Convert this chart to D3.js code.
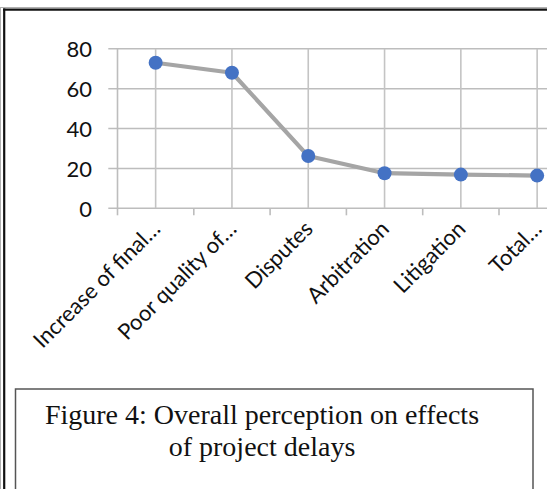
<!DOCTYPE html>
<html><head><meta charset="utf-8">
<script src="https://cdn.jsdelivr.net/npm/d3@7"></script>
<style>html,body{margin:0;padding:0;background:#fff;overflow:hidden}</style>
</head><body>
<svg id="c" width="547" height="489"></svg>
<script>
const categories = ["Increase of final…", "Poor quality of…", "Disputes", "Arbitration", "Litigation", "Total…"];
const values = [73, 68, 26.2, 17.6, 16.9, 16.4];
const yTicks = [0, 20, 40, 60, 80];
const captionLines = ["Figure 4: Overall perception on effects", "of project delays"];

const svg = d3.select("#c");
// outer frame (double border)
svg.append("line").attr("x1",0.5).attr("x2",0.5).attr("y1",7).attr("y2",489).attr("stroke","#b0b0b0").attr("stroke-width",1);
svg.append("line").attr("x1",0).attr("x2",547).attr("y1",7.5).attr("y2",7.5).attr("stroke","#b0b0b0").attr("stroke-width",1);
svg.append("line").attr("x1",4.2).attr("x2",4.2).attr("y1",8.6).attr("y2",489).attr("stroke","#111").attr("stroke-width",2.2);
svg.append("line").attr("x1",3.1).attr("x2",547).attr("y1",9.6).attr("y2",9.6).attr("stroke","#111").attr("stroke-width",2.2);

const left = 117.5, band = 76.3;
const x = d3.scaleBand().domain(categories).range([left, left + band*categories.length]).paddingInner(0).paddingOuter(0);
const y = d3.scaleLinear().domain([0, 80]).range([208.3, 48.8]);

const g = svg.append("g");
// horizontal gridlines
g.selectAll(".hg").data(yTicks).join("line")
  .attr("x1", 108.3).attr("x2", 547)
  .attr("y1", d => y(d)).attr("y2", d => y(d))
  .attr("stroke", "#bdbdbd").attr("stroke-width", 1.6);
// vertical gridlines at category centers + left axis line
g.selectAll(".vg").data(categories).join("line")
  .attr("x1", d => x(d) + x.bandwidth()/2).attr("x2", d => x(d) + x.bandwidth()/2)
  .attr("y1", y(80)).attr("y2", y(0))
  .attr("stroke", "#c4c4c4").attr("stroke-width", 1.6);
g.append("line").attr("x1", left).attr("x2", left).attr("y1", y(80)).attr("y2", y(0))
  .attr("stroke", "#bdbdbd").attr("stroke-width", 1.6);

// x axis
const xAxis = d3.axisBottom(x).tickSize(0).tickFormat("");
const ax = g.append("g").attr("transform", `translate(0,${y(0)})`).call(xAxis);
ax.select(".domain").remove();
const boundaries = categories.map((c,i) => left + i*band);
g.selectAll(".xt").data(boundaries).join("line")
  .attr("x1", d => d).attr("x2", d => d).attr("y1", y(0)).attr("y2", y(0) + 7)
  .attr("stroke", "#bdbdbd").attr("stroke-width", 1.6);

// y axis labels
const yAxis = d3.axisLeft(y).tickValues(yTicks).tickSize(0).tickPadding(0);
const ay = g.append("g").attr("transform", `translate(92,0)`).call(yAxis);
ay.select(".domain").remove();
ay.selectAll("text").attr("font-family", "Lato, 'Open Sans', sans-serif").attr("font-size", 22).attr("fill", "#111").attr("dy", "0.36em");

// category labels
g.selectAll(".cl").data(categories).join("text")
  .attr("transform", d => `translate(${x(d) + x.bandwidth()/2 + 6},${y(0) + 22}) rotate(-45)`)
  .attr("text-anchor", "end")
  .attr("font-family", "Lato, 'Open Sans', sans-serif").attr("font-size", 22).attr("fill", "#111")
  .text(d => d);

// line
const line = d3.line().x((d,i) => x(categories[i]) + x.bandwidth()/2).y(d => y(d));
g.append("path").datum(values).attr("d", line).attr("fill", "none")
  .attr("stroke", "#a5a5a5").attr("stroke-width", 4.2).attr("stroke-linejoin", "round");
g.selectAll(".pt").data(values).join("circle")
  .attr("cx", (d,i) => x(categories[i]) + x.bandwidth()/2).attr("cy", d => y(d))
  .attr("r", 7).attr("fill", "#4472c4");

// caption box
svg.append("rect").attr("x", 15.5).attr("y", 389).attr("width", 517.5).attr("height", 120)
  .attr("fill", "none").attr("stroke", "#555").attr("stroke-width", 1.5);
svg.selectAll(".cap").data(captionLines).join("text")
  .attr("x", 262).attr("y", (d,i) => 424 + i*32)
  .attr("text-anchor", "middle")
  .attr("font-family", "'Liberation Serif', 'Times New Roman', serif").attr("font-size", 28).attr("fill", "#111")
  .text(d => d);
</script>
</body></html>
